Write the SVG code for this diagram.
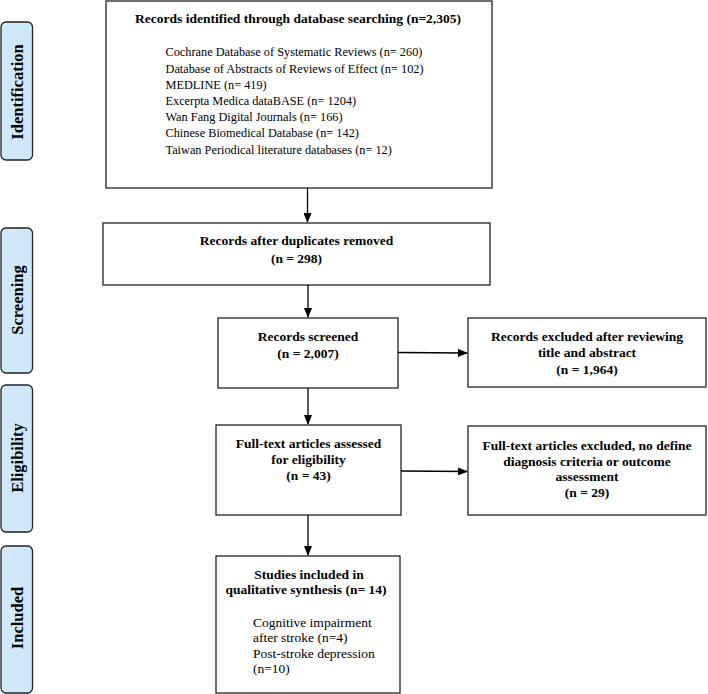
<svg xmlns="http://www.w3.org/2000/svg" width="708" height="694" viewBox="0 0 708 694">
<defs>
<style>
.box{fill:#fff;stroke:#222;stroke-width:1.3}
.stage{fill:#cfe9fb;stroke:#222;stroke-width:1.3}
.t{font-family:"Liberation Serif","Times New Roman",serif;fill:#000}
.b{font-weight:bold;font-size:13.5px}
.r{font-size:12.3px}
.r2{font-size:13.5px}
.s{font-weight:bold;font-size:16.5px}
.c{text-anchor:middle}
.ln{stroke:#000;stroke-width:1.3;fill:none}
</style>
<marker id="ah" markerWidth="10" markerHeight="8" refX="9" refY="4" orient="auto" markerUnits="userSpaceOnUse">
<path d="M0,0 L10,4 L0,8 Z" fill="#000"/>
</marker>
</defs>
<rect width="708" height="694" fill="#fff"/>

<g id="stage-identification">
<rect class="stage" x="1" y="22" width="31.5" height="138" rx="5"/>
<text class="t s c" transform="translate(22.5,92) rotate(-90)">Identification</text>
</g>
<g id="stage-screening">
<rect class="stage" x="1" y="228" width="31.5" height="145" rx="5"/>
<text class="t s c" transform="translate(22.5,300) rotate(-90)">Screening</text>
</g>
<g id="stage-eligibility">
<rect class="stage" x="1" y="385" width="31.5" height="147" rx="5"/>
<text class="t s c" transform="translate(22.5,458) rotate(-90)">Eligibility</text>
</g>
<g id="stage-included">
<rect class="stage" x="1" y="546" width="31.5" height="147" rx="5"/>
<text class="t s c" transform="translate(22.5,618) rotate(-90)">Included</text>
</g>

<g id="identified">
<rect class="box" x="106" y="1" width="386" height="187"/>
<text class="t b c" x="298" y="23">Records identified through database searching (n=2,305)</text>
<text class="t r" x="165.5" y="56">Cochrane Database of Systematic Reviews (n= 260)</text>
<text class="t r" x="165.5" y="72.5">Database of Abstracts of Reviews of Effect (n= 102)</text>
<text class="t r" x="165.5" y="88.5">MEDLINE (n= 419)</text>
<text class="t r" x="165.5" y="104.5">Excerpta Medica dataBASE (n= 1204)</text>
<text class="t r" x="165.5" y="121">Wan Fang Digital Journals (n= 166)</text>
<text class="t r" x="165.5" y="137">Chinese Biomedical Database (n= 142)</text>
<text class="t r" x="165.5" y="153.5">Taiwan Periodical literature databases (n= 12)</text>
</g>

<g id="duplicates-removed">
<rect class="box" x="103" y="223" width="387" height="62"/>
<text class="t b c" x="296.5" y="245">Records after duplicates removed</text>
<text class="t b c" x="296.5" y="263">(n = 298)</text>
</g>

<g id="screened">
<rect class="box" x="218" y="318" width="180" height="70"/>
<text class="t b c" x="308" y="341">Records screened</text>
<text class="t b c" x="308" y="358">(n = 2,007)</text>
</g>

<g id="excluded-title">
<rect class="box" x="468" y="318" width="238" height="69"/>
<text class="t b c" x="587" y="341">Records excluded after reviewing</text>
<text class="t b c" x="587" y="357">title and abstract</text>
<text class="t b c" x="587" y="374">(n = 1,964)</text>
</g>

<g id="fulltext">
<rect class="box" x="216" y="425" width="185" height="90"/>
<text class="t b c" x="308.5" y="448">Full-text articles assessed</text>
<text class="t b c" x="308.5" y="464">for eligibility</text>
<text class="t b c" x="308.5" y="480">(n = 43)</text>
</g>

<g id="excluded-fulltext">
<rect class="box" x="468" y="426" width="238" height="89"/>
<text class="t b c" x="587" y="450">Full-text articles excluded, no define</text>
<text class="t b c" x="587" y="466">diagnosis criteria or outcome</text>
<text class="t b c" x="587" y="481">assessment</text>
<text class="t b c" x="587" y="497">(n = 29)</text>
</g>

<g id="included">
<rect class="box" x="216" y="556" width="184" height="137"/>
<text class="t b c" x="309" y="579">Studies included in</text>
<text class="t b c" x="306" y="594">qualitative synthesis (n= 14)</text>
<text class="t r2" x="253" y="627">Cognitive impairment</text>
<text class="t r2" x="253" y="642">after stroke (n=4)</text>
<text class="t r2" x="253" y="658">Post-stroke depression</text>
<text class="t r2" x="253" y="673">(n=10)</text>
</g>

<g id="connectors">
<line class="ln" x1="307.5" y1="188" x2="307.5" y2="222" marker-end="url(#ah)"/>
<line class="ln" x1="308" y1="285" x2="308" y2="317" marker-end="url(#ah)"/>
<line class="ln" x1="308" y1="388" x2="308" y2="424" marker-end="url(#ah)"/>
<line class="ln" x1="308" y1="515" x2="308" y2="555" marker-end="url(#ah)"/>
<line class="ln" x1="398" y1="352.5" x2="467" y2="353" marker-end="url(#ah)"/>
<line class="ln" x1="401" y1="471" x2="467" y2="471.5" marker-end="url(#ah)"/>
</g>
</svg>
